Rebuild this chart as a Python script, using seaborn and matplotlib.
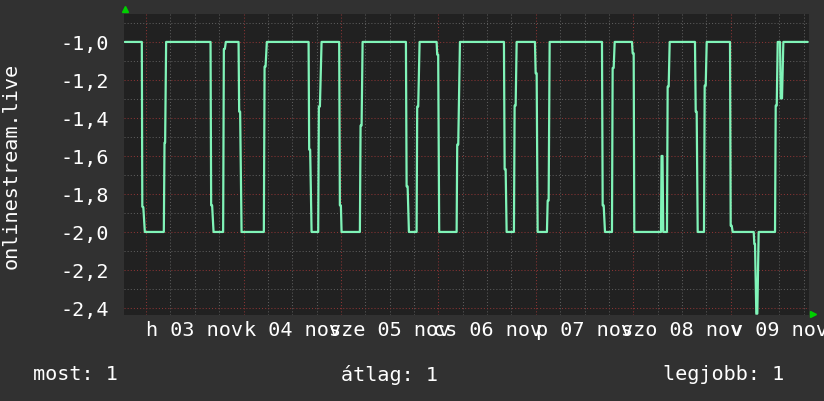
import matplotlib
matplotlib.use("Agg")
import matplotlib.pyplot as plt
from matplotlib.ticker import MultipleLocator, FuncFormatter, NullFormatter
import seaborn as sns
import pandas as pd

# hours since 03 nov 00:00
hours = [
    -5.25, -1.06, -0.94, -0.69, -0.32,
    4.36, 4.53, 4.68, 4.93,
    15.87, 16.02, 16.26, 16.61,
    18.97, 19.15, 19.39, 19.64,
    22.77, 22.92, 23.16, 23.51,
    29.00, 29.18, 29.42, 29.74,
    40.02, 40.17, 40.41, 40.76,
    42.39, 42.56, 42.81, 43.22,
    47.56, 47.73, 47.98, 48.15,
    52.66, 52.83, 53.08, 53.33,
    64.00, 64.17, 64.42, 64.74,
    66.63, 66.78, 67.03, 67.37,
    71.56, 71.71, 71.95, 72.20,
    76.49, 76.64, 76.89, 77.31,
    88.15, 88.32, 88.57, 88.81,
    90.61, 90.78, 91.03, 91.28,
    95.79, 95.96, 96.21, 96.45,
    98.74, 98.92, 99.16, 99.41,
    112.30, 112.47, 112.72, 113.04,
    114.76, 114.93, 115.18, 115.43,
    119.69, 119.86, 120.11, 120.26,
    126.84, 126.97, 127.21, 127.40,
    128.31, 128.48, 128.73, 128.98,
    135.21, 135.39, 135.63, 135.88,
    137.43, 137.60, 137.85, 138.10,
    143.84, 144.01, 144.26, 144.50,
    149.68, 149.83, 150.00, 150.32, 150.57, 150.90,
    154.93, 155.10, 155.35, 155.59,
    156.16, 156.33, 156.65, 156.98,
    162.99,
]
values = [
    -1.0, -1.0, -1.867, -1.87, -2.0,
    -2.0, -1.53, -1.53, -1.0,
    -1.0, -1.86, -1.86, -2.0,
    -2.0, -1.037, -1.037, -1.0,
    -1.0, -1.367, -1.367, -2.0,
    -2.0, -1.13, -1.13, -1.0,
    -1.0, -1.567, -1.567, -2.0,
    -2.0, -1.34, -1.34, -1.0,
    -1.0, -1.86, -1.86, -2.0,
    -2.0, -1.44, -1.44, -1.0,
    -1.0, -1.76, -1.76, -2.0,
    -2.0, -1.34, -1.34, -1.0,
    -1.0, -1.067, -1.067, -2.0,
    -2.0, -1.54, -1.54, -1.0,
    -1.0, -1.67, -1.67, -2.0,
    -2.0, -1.335, -1.335, -1.0,
    -1.0, -1.165, -1.165, -2.0,
    -2.0, -1.835, -1.835, -1.0,
    -1.0, -1.86, -1.86, -2.0,
    -2.0, -1.137, -1.137, -1.0,
    -1.0, -1.06, -1.06, -2.0,
    -2.0, -1.6, -1.6, -2.0,
    -2.0, -1.235, -1.235, -1.0,
    -1.0, -1.367, -1.367, -2.0,
    -2.0, -1.23, -1.23, -1.0,
    -1.0, -1.967, -1.967, -2.0,
    -2.0, -2.063, -2.063, -2.43, -2.43, -2.0,
    -2.0, -1.335, -1.335, -1.0,
    -1.0, -1.297, -1.297, -1.0,
    -1.0,
]
day_labels = ["h 03 nov", "k 04 nov", "sze 05 nov", "cs 06 nov",
              "p 07 nov", "szo 08 nov", "v 09 nov"]
y_label = "onlinestream.live"
legend_items = ["most: 1", "átlag: 1", "legjobb: 1"]

FIG_BG = "#313131"
AX_BG = "#212121"
LINE = "#80f4b8"
MINOR = "#5c5c5c"
MAJOR = "#8a3434"
FONT = "DejaVu Sans Mono"
FS = 14.5

sns.set_theme(style="dark")
plt.rcParams["font.family"] = [FONT, "DejaVu Sans"]
plt.rcParams["axes.unicode_minus"] = False

fig = plt.figure(figsize=(8.24, 4.02), dpi=100, facecolor=FIG_BG)
ax = fig.add_axes([124 / 824, 1 - 316 / 402, 685 / 824, 301 / 402])
ax.set_facecolor(AX_BG)

df = pd.DataFrame({"hours": hours, "value": values})
sns.lineplot(data=df, x="hours", y="value", ax=ax, color=LINE,
             linewidth=1.6, estimator=None, sort=False, zorder=5)

ax.set_xlim(-5.45, 163.3)
ax.set_ylim(-2.437, -0.853)

ax.xaxis.set_major_locator(MultipleLocator(24))
ax.xaxis.set_minor_locator(MultipleLocator(6))
ax.yaxis.set_major_locator(MultipleLocator(0.2))
ax.yaxis.set_minor_locator(MultipleLocator(0.1))
ax.xaxis.set_major_formatter(NullFormatter())
ax.yaxis.set_major_formatter(FuncFormatter(lambda v, p: f"{v:.1f}".replace(".", ",")))

ax.grid(which="minor", color=MINOR, linestyle=(0, (1, 2)), linewidth=0.75)
ax.grid(which="major", color=MAJOR, linestyle=(0, (1, 2)), linewidth=0.75)
ax.set_axisbelow(True)

ax.tick_params(which="both", length=0)
ax.tick_params(axis="y", colors="white", labelsize=FS, pad=11)
for s in ax.spines.values():
    s.set_visible(False)

ax.set_xlabel("")
ax.set_ylabel(y_label, color="white", fontsize=FS)
ax.yaxis.set_label_coords(-0.151, 0.5)

for i, lab in enumerate(day_labels):
    ax.text(i * 24 + 12, -0.047, lab, transform=ax.get_xaxis_transform(),
            ha="center", va="center", color="white", fontsize=FS, clip_on=False)

# rrdtool axis arrows
ax.plot([0.0015], [1.015], marker="^", color="#00d000", markersize=5,
        transform=ax.transAxes, clip_on=False, linestyle="none")
ax.plot([1.006], [0.003], marker=">", color="#00d000", markersize=5,
        transform=ax.transAxes, clip_on=False, linestyle="none")

for xpix, txt in zip([33, 341, 663], legend_items):
    fig.text(xpix / 824, 1 - 375 / 402, txt, ha="left", va="center",
             color="white", fontsize=FS)

fig.savefig("out.png", dpi=100, facecolor=FIG_BG)
